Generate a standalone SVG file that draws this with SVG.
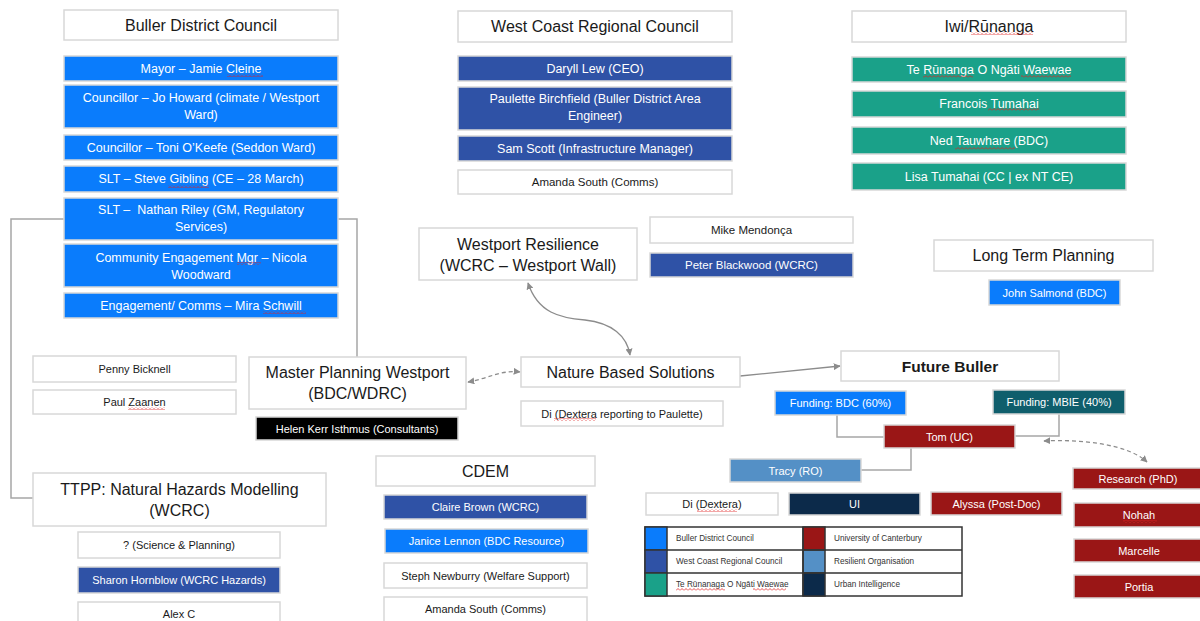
<svg xmlns="http://www.w3.org/2000/svg" width="1200" height="621" viewBox="0 0 1200 621">
<style>
rect{stroke:#d8d8d8;stroke-width:1.5}
.wb{fill:#fff}
.bdc{fill:#0a7cfc}
.wcrc{fill:#2f52a6}
.iwi{fill:#1aa189}
.uc{fill:#9a1616}
.mbie{fill:#0f5e6c}
.ro{fill:#5490c6}
.ui{fill:#0c2a4a}
.blk{fill:#000}
text{font-family:"Liberation Sans",Arial,sans-serif;text-anchor:middle;dominant-baseline:central}
.w{fill:#fff}
.d{fill:#1a1a1a}
.h{font-size:16px}
.s{font-size:12.5px}
.x{font-size:11.5px}
.r{font-size:11px}
.lg{font-size:8.2px;fill:#333;text-anchor:start}
.ln{fill:none;stroke:#a6a6a6;stroke-width:1.5}
.ar{fill:none;stroke:#8c8c8c;stroke-width:1.3}
.dash{stroke-dasharray:4 3}
.sq{fill:url(#wv);stroke:none}
.lgt{stroke:#333;stroke-width:1.5}
</style>
<defs>
<marker id="ah" viewBox="0 0 10 10" refX="9" refY="5" markerWidth="7" markerHeight="7" orient="auto-start-reverse" markerUnits="userSpaceOnUse">
<path d="M0,0 L10,5 L0,10 z" fill="#8c8c8c"/>
</marker>
<pattern id="wv" width="4" height="3" patternUnits="userSpaceOnUse">
<path d="M0,2.5 L2,0.5 L4,2.5" fill="none" stroke="#e02020" stroke-width="0.8"/>
</pattern>
</defs>

<g id="connectors">
<path class="ln" d="M64,219 H11 V498 H33"/>
<path class="ln" d="M338,219 H357 V357"/>
<path class="ln" d="M837,415 V437 H884"/>
<path class="ln" d="M1059,414 V436 H1015"/>
<path class="ln" d="M911,448 V470 H861"/>
<path class="ar" d="M528,283 C538,313 560,318 585,320 C612,323 627,336 630,355" marker-start="url(#ah)" marker-end="url(#ah)"/>
<path class="ar dash" d="M468,382 C490,378 500,370 520,372" marker-start="url(#ah)" marker-end="url(#ah)"/>
<path class="ar" d="M740,376 L840,366" marker-end="url(#ah)"/>
<path class="ar dash" d="M1044,441 C1080,439 1128,444 1147,462" marker-start="url(#ah)" marker-end="url(#ah)"/>
</g>

<g id="bdc-header"><rect class="wb" x="64" y="10" width="274" height="30"/><text class="d h" x="201" y="25">Buller District Council</text></g>
<g id="bdc-mayor"><rect class="bdc" x="64" y="56" width="274" height="25"/><text class="w s" x="201" y="68.5">Mayor – Jamie Cleine</text><rect class="sq" x="227" y="74" width="36" height="3"/></g>
<g id="bdc-jo"><rect class="bdc" x="64" y="85" width="274" height="43"/><text class="w s" x="201" y="98">Councillor – Jo Howard (climate / Westport</text><text class="w s" x="201" y="115">Ward)</text></g>
<g id="bdc-toni"><rect class="bdc" x="64" y="135" width="274" height="25"/><text class="w s" x="201" y="147.5">Councillor – Toni O’Keefe (Seddon Ward)</text></g>
<g id="bdc-steve"><rect class="bdc" x="64" y="166" width="274" height="26"/><text class="w s" x="201" y="179">SLT – Steve Gibling (CE – 28 March)</text><rect class="sq" x="168" y="185" width="41" height="3"/></g>
<g id="bdc-nathan"><rect class="bdc" x="64" y="198" width="274" height="42"/><text class="w s" x="201" y="210" xml:space="preserve">SLT –  Nathan Riley (GM, Regulatory</text><text class="w s" x="201" y="227">Services)</text></g>
<g id="bdc-nicola"><rect class="bdc" x="64" y="244" width="274" height="43"/><text class="w s" x="201" y="258">Community Engagement Mgr – Nicola</text><text class="w s" x="201" y="275">Woodward</text><rect class="sq" x="237" y="262" width="24" height="3"/></g>
<g id="bdc-mira"><rect class="bdc" x="64" y="293" width="274" height="25"/><text class="w s" x="201" y="305.5">Engagement/ Comms – Mira Schwill</text><rect class="sq" x="263" y="311" width="43" height="3"/></g>

<g id="wcrc-header"><rect class="wb" x="458" y="11" width="274" height="31"/><text class="d h" x="595" y="26.5">West Coast Regional Council</text></g>
<g id="wcrc-daryll"><rect class="wcrc" x="458" y="56" width="274" height="25"/><text class="w s" x="595" y="68.5">Daryll Lew (CEO)</text></g>
<g id="wcrc-paulette"><rect class="wcrc" x="458" y="87" width="274" height="43"/><text class="w s" x="595" y="99">Paulette Birchfield (Buller District Area</text><text class="w s" x="595" y="116">Engineer)</text></g>
<g id="wcrc-sam"><rect class="wcrc" x="458" y="136" width="274" height="25"/><text class="w s" x="595" y="148.5">Sam Scott (Infrastructure Manager)</text></g>
<g id="wcrc-amanda"><rect class="wb" x="458" y="170" width="274" height="24"/><text class="d x" x="595" y="182">Amanda South (Comms)</text></g>

<g id="iwi-header"><rect class="wb" x="852" y="11" width="274" height="31"/><text class="d h" x="989" y="26.5">Iwi/Rūnanga</text><rect class="sq" x="971" y="32" width="62" height="3"/></g>
<g id="iwi-te"><rect class="iwi" x="852" y="57" width="274" height="25"/><text class="w s" x="989" y="69.5">Te Rūnanga O Ngāti Waewae</text><rect class="sq" x="923" y="75" width="50" height="3"/><rect class="sq" x="1021" y="75" width="50" height="3"/></g>
<g id="iwi-francois"><rect class="iwi" x="852" y="91" width="274" height="26"/><text class="w s" x="989" y="104">Francois Tumahai</text><rect class="sq" x="988" y="108" width="51" height="3"/></g>
<g id="iwi-ned"><rect class="iwi" x="852" y="127" width="274" height="27"/><text class="w s" x="989" y="140.5">Ned Tauwhare (BDC)</text><rect class="sq" x="955" y="147" width="60" height="3"/></g>
<g id="iwi-lisa"><rect class="iwi" x="852" y="163" width="274" height="27"/><text class="w s" x="989" y="176.5">Lisa Tumahai (CC | ex NT CE)</text></g>

<g id="westport-resilience"><rect class="wb" x="419" y="228" width="218" height="52"/><text class="d h" x="528" y="244">Westport Resilience</text><text class="d h" x="528" y="265">(WCRC – Westport Wall)</text></g>
<g id="mike"><rect class="wb" x="650" y="217" width="203" height="26"/><text class="d x" x="751.5" y="230">Mike Mendonça</text></g>
<g id="peter"><rect class="wcrc" x="650" y="253" width="203" height="24"/><text class="w x" x="751.5" y="265">Peter Blackwood (WCRC)</text></g>

<g id="long-term"><rect class="wb" x="934" y="240" width="219" height="31"/><text class="d h" x="1043.5" y="255.5">Long Term Planning</text></g>
<g id="john"><rect class="bdc" x="989" y="280" width="131" height="25"/><text class="w r" x="1054.5" y="292.5">John Salmond (BDC)</text></g>

<g id="penny"><rect class="wb" x="33" y="356" width="203" height="26"/><text class="d r" x="134.5" y="369">Penny Bicknell</text></g>
<g id="paul"><rect class="wb" x="33" y="390" width="203" height="24"/><text class="d r" x="134.5" y="402">Paul Zaanen</text><rect class="sq" x="128" y="407" width="37" height="3"/></g>

<g id="master-planning"><rect class="wb" x="249" y="357" width="217" height="52"/><text class="d h" x="357.5" y="372">Master Planning Westport</text><text class="d h" x="357.5" y="393">(BDC/WDRC)</text></g>
<g id="helen"><rect class="blk" x="256" y="417" width="202" height="23"/><text class="w r" x="357" y="428.5">Helen Kerr Isthmus (Consultants)</text></g>

<g id="nature"><rect class="wb" x="521" y="357" width="219" height="30"/><text class="d h" x="630.5" y="372">Nature Based Solutions</text></g>
<g id="di-reporting"><rect class="wb" x="521" y="401" width="202" height="25"/><text class="d r" x="622" y="413.5">Di (Dextera reporting to Paulette)</text><rect class="sq" x="554" y="418" width="42" height="3"/></g>

<g id="ttpp"><rect class="wb" x="33" y="473" width="293" height="53"/><text class="d h" x="179.5" y="489">TTPP: Natural Hazards Modelling</text><text class="d h" x="179.5" y="510">(WCRC)</text></g>
<g id="science"><rect class="wb" x="78" y="532" width="202" height="26"/><text class="d r" x="179" y="545">? (Science &amp; Planning)</text></g>
<g id="sharon"><rect class="wcrc" x="78" y="567" width="202" height="26"/><text class="w r" x="179" y="580">Sharon Hornblow (WCRC Hazards)</text></g>
<g id="alex"><rect class="wb" x="78" y="602" width="202" height="26"/><text class="d r" x="179" y="614">Alex C</text></g>

<g id="cdem"><rect class="wb" x="376" y="456" width="219" height="30"/><text class="d h" x="485.5" y="471">CDEM</text></g>
<g id="claire"><rect class="wcrc" x="384" y="495" width="203" height="24"/><text class="w r" x="485.5" y="507">Claire Brown (WCRC)</text></g>
<g id="janice"><rect class="bdc" x="385" y="529" width="203" height="24"/><text class="w r" x="486.5" y="541">Janice Lennon (BDC Resource)</text></g>
<g id="steph"><rect class="wb" x="384" y="563" width="203" height="25"/><text class="d r" x="485.5" y="575.5">Steph Newburry (Welfare Support)</text></g>
<g id="amanda-cdem"><rect class="wb" x="384" y="597" width="203" height="28"/><text class="d r" x="485.5" y="609">Amanda South (Comms)</text></g>

<g id="future-buller"><rect class="wb" x="841" y="351" width="218" height="30"/><text class="d" x="950" y="366" style="font-size:15.5px;font-weight:bold">Future Buller</text></g>
<g id="funding-bdc"><rect class="bdc" x="775" y="391" width="131" height="24"/><text class="w r" x="840.5" y="403">Funding: BDC (60%)</text></g>
<g id="funding-mbie"><rect class="mbie" x="993" y="390" width="132" height="24"/><text class="w r" x="1059" y="402">Funding: MBIE (40%)</text></g>
<g id="tom"><rect class="uc" x="884" y="425" width="131" height="23"/><text class="w r" x="949.5" y="436.5">Tom (UC)</text></g>
<g id="tracy"><rect class="ro" x="730" y="459" width="131" height="23"/><text class="w r" x="795.5" y="470.5">Tracy (RO)</text></g>
<g id="di-dextera"><rect class="wb" x="646" y="493" width="132" height="22"/><text class="d r" x="712" y="504">Di (Dextera)</text><rect class="sq" x="697" y="509" width="40" height="3"/></g>
<g id="ui"><rect class="ui" x="789" y="493" width="131" height="22"/><text class="w r" x="854.5" y="504">UI</text></g>
<g id="alyssa"><rect class="uc" x="931" y="492" width="131" height="23"/><text class="w r" x="996.5" y="503.5">Alyssa (Post-Doc)</text></g>
<g id="research"><rect class="uc" x="1073" y="468" width="130" height="21"/><text class="w r" x="1138" y="478.5">Research (PhD)</text></g>
<g id="nohah"><rect class="uc" x="1074" y="503" width="130" height="24"/><text class="w r" x="1139" y="515">Nohah</text><rect class="sq" x="1123" y="520" width="34" height="3"/></g>
<g id="marcelle"><rect class="uc" x="1074" y="539" width="130" height="23"/><text class="w r" x="1139" y="550.5">Marcelle</text></g>
<g id="portia"><rect class="uc" x="1074" y="575" width="130" height="23"/><text class="w r" x="1139" y="586.5">Portia</text></g>

<g id="legend">
<rect class="wb lgt" x="645" y="527" width="317" height="69"/>
<rect class="bdc lgt" x="645" y="527" width="22" height="23"/>
<rect class="wcrc lgt" x="645" y="550" width="22" height="23"/>
<rect class="iwi lgt" x="645" y="573" width="22" height="23"/>
<rect class="uc lgt" x="803" y="527" width="22" height="23"/>
<rect class="ro lgt" x="803" y="550" width="22" height="23"/>
<rect class="ui lgt" x="803" y="573" width="22" height="23"/>
<path d="M667,550 H962 M667,573 H962 M803,527 V596" stroke="#333" stroke-width="1.5" fill="none"/>
<text class="lg" x="676" y="538.5">Buller District Council</text>
<text class="lg" x="676" y="561.5">West Coast Regional Council</text>
<text class="lg" x="676" y="584">Te Rūnanaga O Ngāti Waewae</text>
<rect class="sq" x="676" y="588" width="49" height="3"/><rect class="sq" x="753" y="588" width="33" height="3"/>
<text class="lg" x="834" y="538.5">University of Canterbury</text>
<text class="lg" x="834" y="561.5">Resilient Organisation</text>
<text class="lg" x="834" y="584">Urban Intelligence</text>
</g>
</svg>
